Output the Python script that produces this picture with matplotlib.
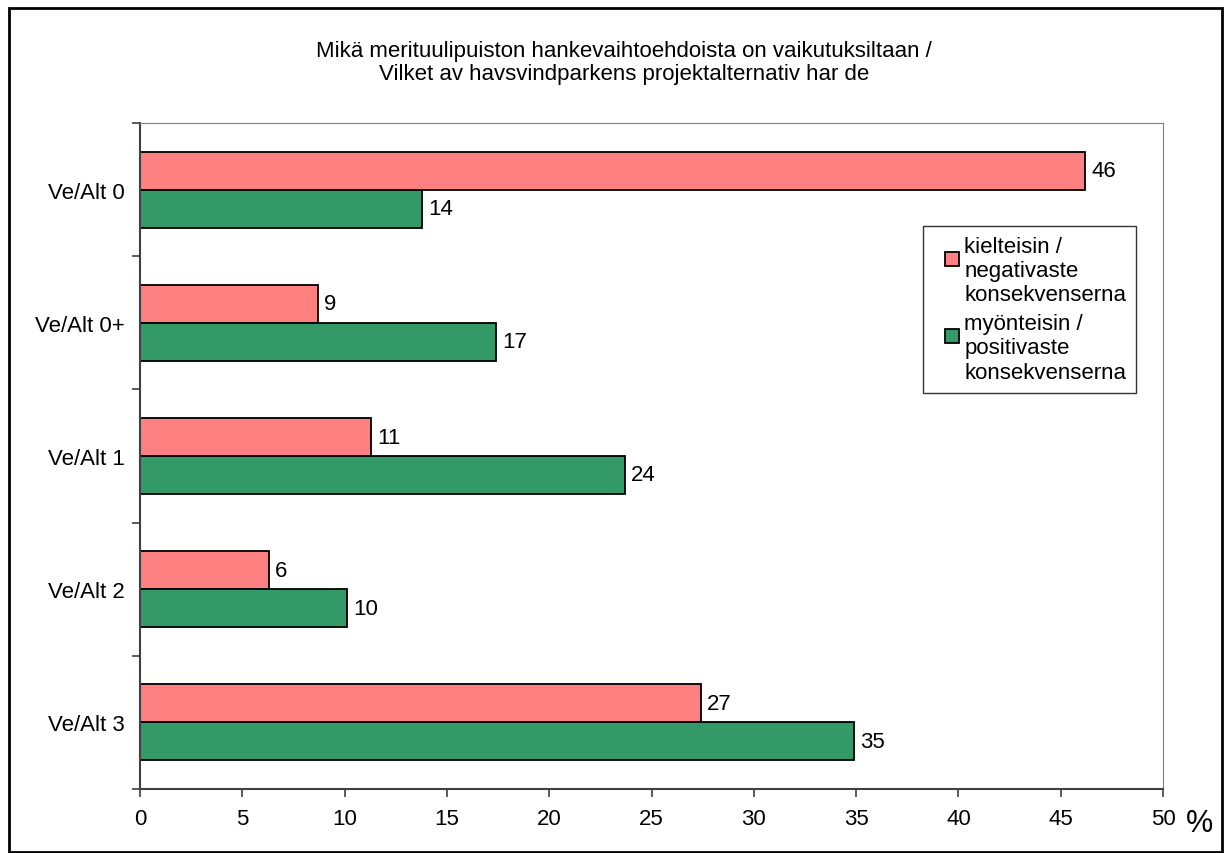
import numpy as np
import matplotlib.pyplot as plt
from matplotlib.patches import Rectangle
from matplotlib.legend_handler import HandlerPatch

plt.rcParams['font.family'] = ['Liberation Sans', 'DejaVu Sans']

# data
categories = ['Ve/Alt 0', 'Ve/Alt 0+', 'Ve/Alt 1', 'Ve/Alt 2', 'Ve/Alt 3']
negative = [46.2, 8.7, 11.3, 6.3, 27.4]
positive = [13.8, 17.4, 23.7, 10.1, 34.9]
series_names = ['kielteisin /\nnegativaste\nkonsekvenserna',
                'myönteisin /\npositivaste\nkonsekvenserna']
title = 'Mikä merituulipuiston hankevaihtoehdoista on vaikutuksiltaan /\nVilket av havsvindparkens projektalternativ har de'
xticks = [0, 5, 10, 15, 20, 25, 30, 35, 40, 45, 50]

W, H = 1225, 854
fig = plt.figure(figsize=(W / 100, H / 100), dpi=100)

# figure border
fig.patches.append(Rectangle((9 / W, 1 / H), (W - 12) / W, (H - 10) / H,
                             transform=fig.transFigure, fill=False,
                             edgecolor='black', linewidth=2))

ax = fig.add_axes([140 / W, 1 - 790 / H, 1023 / W, 666 / H])

y = np.arange(len(categories))
h = 0.285
fs = 16
b1 = ax.barh(y - h / 2, negative, height=h, color='#FF8080', edgecolor='black',
             linewidth=1.3, label=series_names[0])
b2 = ax.barh(y + h / 2, positive, height=h, color='#339966', edgecolor='black',
             linewidth=1.3, label=series_names[1])

for bars, vals in [(b1, negative), (b2, positive)]:
    for rect, v in zip(bars, vals):
        ax.text(rect.get_width() + 0.3, rect.get_y() + rect.get_height() / 2,
                f'{v:.0f}', va='center', ha='left', fontsize=fs)

ax.set_xlim(0, 50)
ax.set_ylim(len(categories) - 0.5, -0.5)
ax.set_xticks(xticks)
ax.set_xticklabels([str(t) for t in xticks], fontsize=fs)
ax.tick_params(axis='x', direction='out', length=6, width=1.2, pad=8, color='#404040')

# boundary ticks (major) and label positions (minor)
ax.set_yticks(np.arange(-0.5, len(categories), 1))
ax.set_yticklabels([])
ax.set_yticks(y, minor=True)
ax.set_yticklabels(categories, minor=True, fontsize=fs)
ax.tick_params(axis='y', which='major', direction='out', length=6, width=1.2, color='#404040')
ax.tick_params(axis='y', which='minor', length=0, pad=11)

ax.spines['left'].set_color('#404040')
ax.spines['bottom'].set_color('#404040')
ax.spines['left'].set_linewidth(1.5)
ax.spines['bottom'].set_linewidth(1.5)
ax.spines['top'].set_color('#808080')
ax.spines['right'].set_color('#808080')

fig.text(624 / W, 1 - 63 / H, title, ha='center', va='center', fontsize=fs,
         linespacing=1.1)
fig.text(1186 / W, 1 - 824 / H, '%', ha='left', va='center', fontsize=22)


# square legend key sitting at the top-right of the (tall) handle box
def top_square(legend, orig_handle, xdescent, ydescent, width, height, fontsize):
    s = 0.62 * fontsize
    return Rectangle((width - xdescent - s, height - ydescent - s - 0.22 * fontsize), s, s)


hm = HandlerPatch(patch_func=top_square)
leg = ax.legend([b1[0], b2[0]], series_names,
                loc='upper left', bbox_to_anchor=(923 / W, 1 - 227 / H),
                bbox_transform=fig.transFigure, fontsize=fs, frameon=True,
                fancybox=False, edgecolor='black', handlelength=1.15,
                handleheight=3.1, handletextpad=0.25, borderpad=0.45,
                labelspacing=0.35, borderaxespad=0,
                handler_map={Rectangle: hm})
leg.get_frame().set_linewidth(1)
for t in leg.get_texts():
    t.set_linespacing(1.2)

fig.savefig('out.png', dpi=100)
